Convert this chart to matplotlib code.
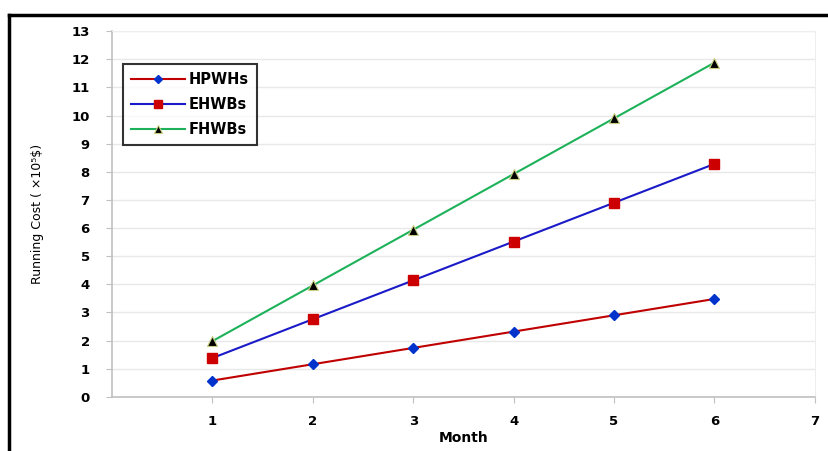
import numpy as np
import matplotlib.pyplot as plt
from matplotlib.lines import Line2D

# data
months = [1, 2, 3, 4, 5, 6]
hpwhs = [0.58, 1.16, 1.74, 2.32, 2.90, 3.48]
ehwbs = [1.38, 2.76, 4.14, 5.52, 6.90, 8.28]
fhwbs = [1.98, 3.96, 5.94, 7.92, 9.90, 11.88]
xticks = [1, 2, 3, 4, 5, 6, 7]
yticks = list(range(0, 14))

fig = plt.figure(figsize=(8.29, 4.51), dpi=100)
ax = fig.add_axes([0.135, 0.12, 0.848, 0.811])

ax.plot(months, hpwhs, color='#C00000', lw=1.5, marker='D', ms=5,
        mfc='#0033CC', mec='#0033CC', label='HPWHs')
ax.plot(months, ehwbs, color='#1A1AC8', lw=1.5, marker='s', ms=7,
        mfc='#CC0000', mec='#CC0000', label='EHWBs')
ax.plot(months, fhwbs, color='#1DB25A', lw=1.5, marker='^', ms=7,
        mfc='black', mec='#C8D080', mew=0.8, label='FHWBs')

ax.set_xlim(0, 7)
ax.set_ylim(0, 13)
ax.set_xticks(xticks)
ax.set_yticks(yticks)
ax.grid(axis='y', color='#e8e8e8', lw=1)
ax.set_axisbelow(True)

for s in ['left', 'bottom']:
    ax.spines[s].set_color('#c0c0c0')
    ax.spines[s].set_linewidth(1.2)
for s in ['top', 'right']:
    ax.spines[s].set_color('#eeeeee')

ax.tick_params(axis='both', direction='out', length=4, color='#c0c0c0',
               labelsize=9.5)
ax.tick_params(axis='y', pad=12)
ax.tick_params(axis='x', pad=9)
for lbl in ax.get_xticklabels() + ax.get_yticklabels():
    lbl.set_fontweight('bold')

ax.set_xlabel('Month', fontsize=10, fontweight='bold', labelpad=2)
ax.set_ylabel('Running Cost ( \u00d710\u2075$)', fontsize=9,
              family='Liberation Sans Narrow', labelpad=20)

leg = ax.legend(loc='upper left', bbox_to_anchor=(0.005, 0.93),
                frameon=True, fancybox=False, edgecolor='black',
                prop={'weight': 'bold', 'size': 10.5}, handlelength=3.7,
                handletextpad=0.3, borderpad=0.55, labelspacing=0.7,
                markerscale=0.85)
leg.get_frame().set_linewidth(1.5)

# black frame lines at top and left of the picture
fig.add_artist(Line2D([0.011, 0.011], [0, 0.967], color='black', lw=2.5,
                      transform=fig.transFigure))
fig.add_artist(Line2D([0.011, 1], [0.967, 0.967], color='black', lw=2.5,
                      transform=fig.transFigure))

fig.savefig('out.png', dpi=100)
